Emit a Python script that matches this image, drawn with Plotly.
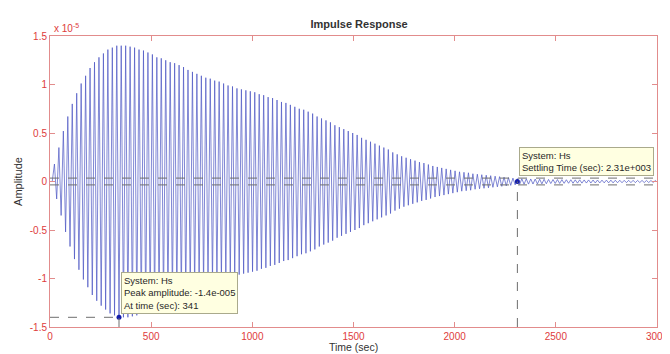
import numpy as np
import plotly.graph_objects as go

# ---- data (amplitudes in units of 1e-5, as on the axis) ----
cycle_period = 22.0
peak_amplitude = [
    0.00, 0.18, 0.35, 0.52, 0.67, 0.80, 0.91, 1.01, 1.09, 1.17, 1.23, 1.28, 1.32, 1.36, 1.38, 1.40,
    1.40, 1.40, 1.39, 1.38, 1.36, 1.35, 1.33, 1.31, 1.28, 1.27, 1.25, 1.23, 1.22, 1.20, 1.18, 1.15, 1.13, 1.11, 1.09,
    1.07, 1.06, 1.04, 1.03, 1.01, 0.99, 0.98, 0.96, 0.95, 0.94, 0.93,
    0.92, 0.90, 0.89, 0.87, 0.86, 0.84, 0.82, 0.81, 0.79, 0.77, 0.75,
    0.74, 0.72, 0.70, 0.67, 0.65, 0.63, 0.61, 0.58, 0.56, 0.54, 0.52, 0.50,
    0.48, 0.45, 0.43, 0.41, 0.39, 0.37, 0.35, 0.33, 0.30, 0.28, 0.26,
    0.245, 0.23, 0.215, 0.20, 0.19, 0.175, 0.16, 0.15, 0.14, 0.13, 0.12,
    0.11, 0.10, 0.095, 0.09, 0.08, 0.075, 0.07, 0.065, 0.06, 0.055, 0.05,
    0.045, 0.04, 0.035, 0.03, 0.028, 0.027, 0.026, 0.025, 0.024, 0.023,
    0.021, 0.020, 0.020, 0.019, 0.018, 0.018, 0.017, 0.017, 0.016, 0.016, 0.015,
    0.015, 0.014, 0.014, 0.014, 0.013, 0.013, 0.012, 0.012, 0.012, 0.011, 0.011, 0.011, 0.010, 0.010,
]
peak_time = 341.0
peak_value = -1.4
settling_time = 2310.0
settling_band = 0.035
x_ticks = [0, 500, 1000, 1500, 2000, 2500, 3000]
y_ticks = [-1.5, -1, -0.5, 0, 0.5, 1, 1.5]
y_tick_text = ["-1.5", "-1", "-0.5", "0", "0.5", "1", "1.5"]

# build alternating crest / trough samples
amps = np.array(peak_amplitude)
n = len(amps)
t = np.empty(2 * n)
y = np.empty(2 * n)
t[0::2] = np.arange(n) * cycle_period
t[1::2] = np.arange(n) * cycle_period + cycle_period / 2
y[0::2] = amps
y[1::2] = -amps

RED = "rgb(222,60,60)"
AXIS = "rgb(226,140,140)"
GREY = "rgb(110,110,110)"
BLUE = "rgb(75,85,195)"
FONT = "Liberation Sans, Arial"
TEXT = "rgb(50,50,50)"

fig = go.Figure()
fig.add_trace(go.Scatter(x=t, y=y, mode="lines",
                         line=dict(color=BLUE, width=0.7), hoverinfo="skip"))
fig.add_trace(go.Scatter(x=[peak_time, settling_time], y=[peak_value, 0],
                         mode="markers", marker=dict(color="rgb(20,30,170)", size=5),
                         hoverinfo="skip", cliponaxis=False))

dash = dict(color=GREY, width=1, dash="dash")
shapes = [
    dict(type="line", xref="x", yref="y", x0=0, x1=peak_time, y0=peak_value, y1=peak_value, line=dash),
    dict(type="line", xref="x", yref="y", x0=peak_time, x1=peak_time, y0=-1.5, y1=peak_value, line=dash),
    dict(type="line", xref="x", yref="y", x0=settling_time, x1=settling_time, y0=-1.5, y1=0, line=dash),
    dict(type="line", xref="x", yref="y", x0=0, x1=3000, y0=settling_band, y1=settling_band, line=dash),
    dict(type="line", xref="x", yref="y", x0=0, x1=3000, y0=-settling_band, y1=-settling_band, line=dash),
]

tip = dict(showarrow=False, xref="x", yref="y", xanchor="left", yanchor="bottom", align="left",
           bgcolor="rgb(255,255,225)", bordercolor="rgb(170,170,140)", borderwidth=1, borderpad=2,
           font=dict(family=FONT, size=9.5, color="rgb(40,40,40)"))
annotations = [
    dict(tip, x=peak_time, y=peak_value, xshift=2, yshift=3,
         text="System: Hs<br>Peak amplitude: -1.4e-005<br>At time (sec): 341"),
    dict(tip, x=settling_time, y=0, xshift=2, yshift=6,
         text="System: Hs<br>Settling Time (sec): 2.31e+003"),
    dict(showarrow=False, xref="paper", yref="paper", x=0, y=1, xanchor="left", yanchor="bottom",
         xshift=2, yshift=0, text="x 10<sup>-5</sup>",
         font=dict(family=FONT, size=10, color=RED)),
    dict(showarrow=False, xref="paper", yref="paper", x=0.5, y=0, xanchor="center", yanchor="top",
         yshift=-12, text="Time (sec)", font=dict(family=FONT, size=10.5, color=TEXT)),
]

axis_common = dict(showgrid=False, zeroline=False, showline=True, linecolor=AXIS, linewidth=1,
                   mirror="ticks", ticks="inside", ticklen=5, tickcolor=AXIS,
                   tickfont=dict(family=FONT, size=10, color=RED))

fig.update_layout(
    width=670, height=354,
    margin=dict(l=42, r=9, t=28, b=35),
    paper_bgcolor="white", plot_bgcolor="white",
    showlegend=False,
    title=dict(text="<b>Impulse Response</b>", x=0.524, xanchor="center", y=0.955, yanchor="middle",
               font=dict(family=FONT, size=11, color=TEXT)),
    xaxis=dict(axis_common, range=[0, 3000], tickvals=x_ticks, ticklabeloverflow="allow"),
    yaxis=dict(axis_common, range=[-1.5, 1.5], tickvals=y_ticks, ticktext=y_tick_text,
               title=dict(text="Amplitude", standoff=4,
                          font=dict(family=FONT, size=11, color=TEXT))),
    shapes=shapes,
    annotations=annotations,
)

fig.write_html("out.html")
